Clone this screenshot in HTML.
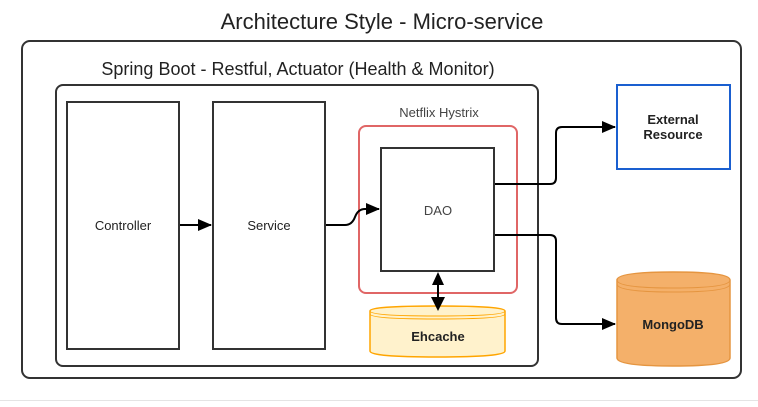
<!DOCTYPE html>
<html><head><meta charset="utf-8"><style>
body{margin:0;background:#fff;width:758px;height:402px;overflow:hidden}
text{font-family:"Liberation Sans",Arial,sans-serif}
</style></head><body>
<svg width="758" height="402" viewBox="0 0 758 402" xmlns="http://www.w3.org/2000/svg">
<defs><marker id="b" markerWidth="14" markerHeight="12" refX="13" refY="6" orient="auto" markerUnits="userSpaceOnUse"><path d="M0,0 L14,6 L0,12 z" fill="#000"/></marker></defs>
<line x1="0" y1="400.5" x2="758" y2="400.5" stroke="#e4e4e4"/>
<text x="382" y="29" font-size="22" text-anchor="middle" fill="#222">Architecture Style - Micro-service</text>
<rect x="22" y="41" width="719" height="337" rx="8" fill="none" stroke="#333" stroke-width="2"/>
<text x="298" y="75" font-size="18" text-anchor="middle" fill="#222">Spring Boot - Restful, Actuator (Health &amp; Monitor)</text>
<rect x="56" y="85" width="482" height="281" rx="7" fill="none" stroke="#333" stroke-width="2"/>
<rect x="67" y="102" width="112" height="247" fill="#fff" stroke="#333" stroke-width="2"/>
<text x="123" y="230" font-size="13" text-anchor="middle" fill="#222">Controller</text>
<rect x="213" y="102" width="112" height="247" fill="#fff" stroke="#333" stroke-width="2"/>
<text x="269" y="230" font-size="13" text-anchor="middle" fill="#222">Service</text>
<path d="M180,225 L211,225" stroke="#000" stroke-width="2" fill="none" marker-end="url(#b)"/>
<text x="439" y="117" font-size="13" text-anchor="middle" fill="#444">Netflix Hystrix</text>
<rect x="359" y="126" width="158" height="167" rx="7" fill="none" stroke="#e06666" stroke-width="2"/>
<rect x="381" y="148" width="113" height="123" fill="#fff" stroke="#333" stroke-width="2"/>
<text x="438" y="215" font-size="13" text-anchor="middle" fill="#444">DAO</text>
<path d="M326,225 L345,225 Q352,225 355,217 Q358,209 365,209 L379,209" stroke="#000" stroke-width="2" fill="none" marker-end="url(#b)"/>
<path d="M495,184 L550,184 Q556,184 556,178 L556,133 Q556,127 562,127 L615,127" stroke="#000" stroke-width="2" fill="none" marker-end="url(#b)"/>
<path d="M495,235 L550,235 Q556,235 556,241 L556,318 Q556,324 562,324 L615,324" stroke="#000" stroke-width="2" fill="none" marker-end="url(#b)"/>
<rect x="617" y="85" width="113" height="84" fill="#fff" stroke="#1a5fd0" stroke-width="2"/>
<text x="673" y="124" font-size="13" font-weight="bold" text-anchor="middle" fill="#222">External</text>
<text x="673" y="139" font-size="13" font-weight="bold" text-anchor="middle" fill="#222">Resource</text>
<path d="M617,280 Q617,272 673,272 Q730,272 730,280 L730,358 Q730,366 673,366 Q617,366 617,358 Z" fill="#f4b06a" stroke="#e59540" stroke-width="1.5"/>
<path d="M617,280 Q617,288 673,288 Q730,288 730,280 M617,284 Q617,292 673,292 Q730,292 730,284" fill="none" stroke="#e59540" stroke-width="1"/>
<text x="673" y="329" font-size="13" font-weight="bold" text-anchor="middle" fill="#222">MongoDB</text>
<path d="M370,311 Q370,306 437,306 Q505,306 505,311 L505,351 Q505,357 437,357 Q370,357 370,351 Z" fill="#fff2cc" stroke="#ffa500" stroke-width="1.5"/>
<path d="M370,311 Q370,316 437,316 Q505,316 505,311 M370,314 Q370,319 437,319 Q505,319 505,314" fill="none" stroke="#ffa500" stroke-width="1"/>
<text x="438" y="341" font-size="13" font-weight="bold" text-anchor="middle" fill="#222">Ehcache</text>
<path d="M438,285 L438,298" stroke="#000" stroke-width="2"/>
<path d="M438,272 L432,285 L444,285 Z" fill="#000"/>
<path d="M438,311 L431,297 L445,297 Z" fill="#000"/>
</svg>
</body></html>
